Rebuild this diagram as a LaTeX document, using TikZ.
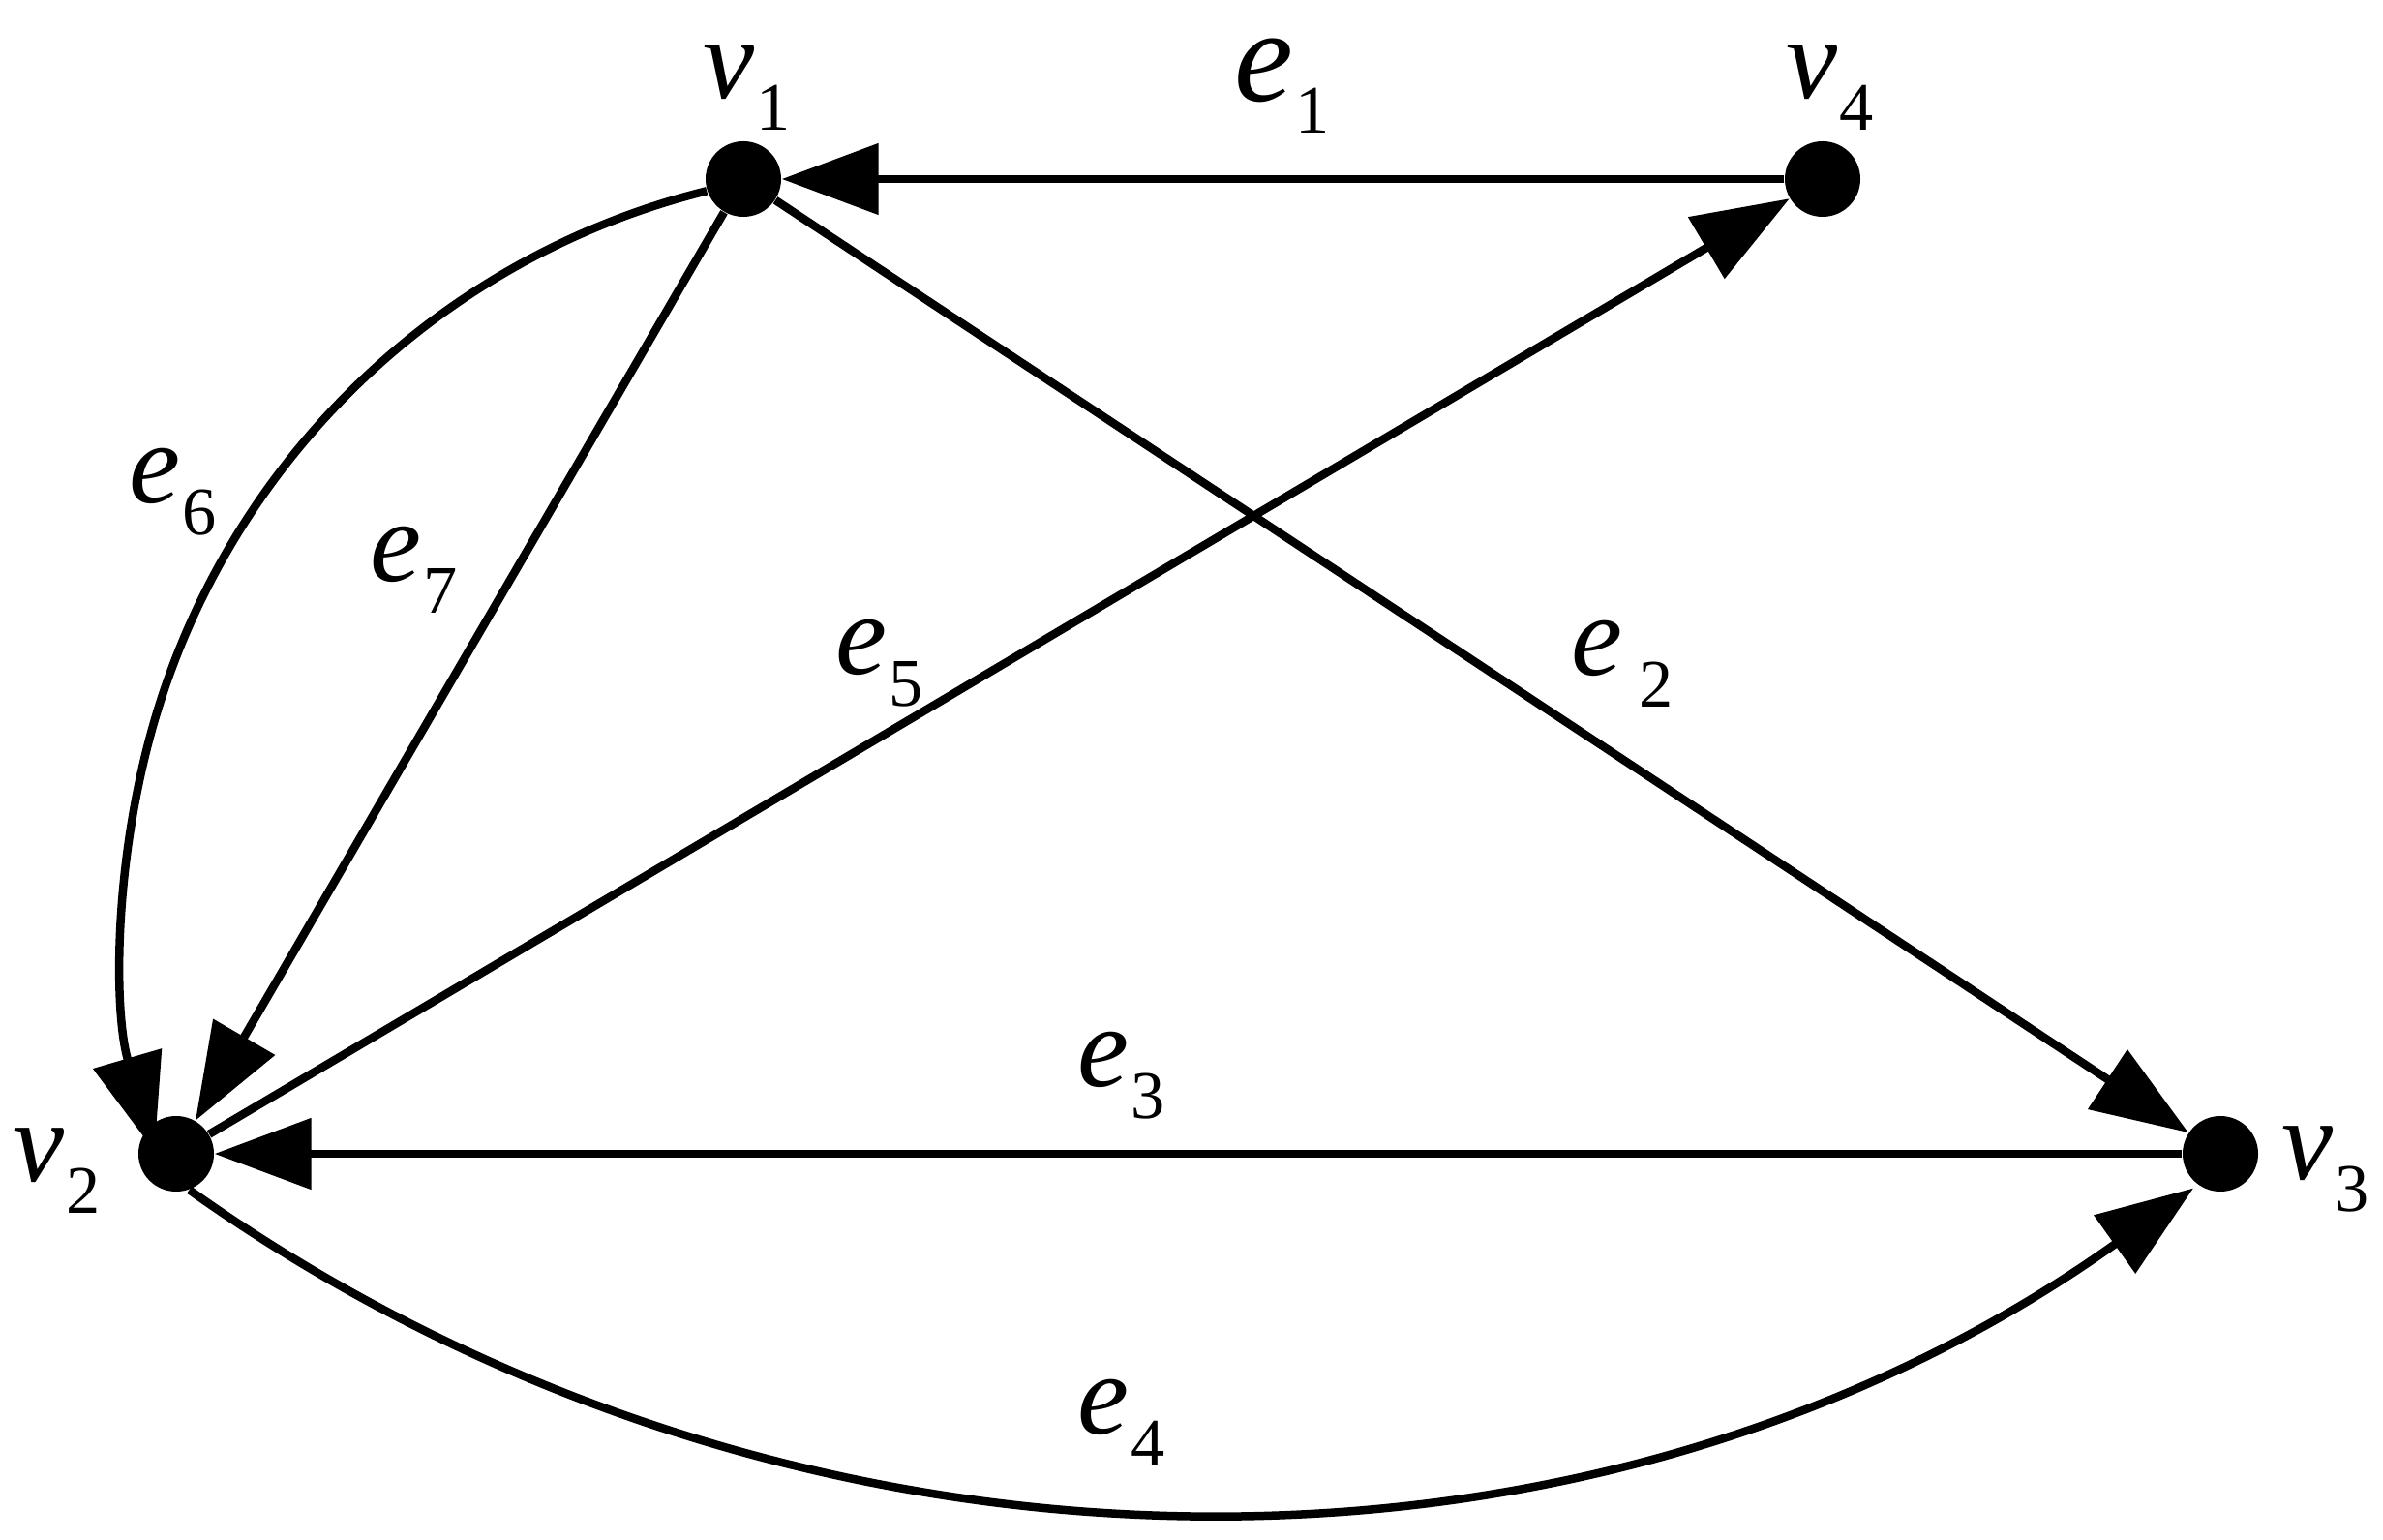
\documentclass[tikz,border=0pt]{standalone}
\usepackage{fontspec}
\setmainfont{Liberation Serif}
\newfontfamily\lbfont{Liberation Serif}
\usetikzlibrary{arrows.meta}
\newcommand{\glabel}[3][34]{{\lbfont\fontsize{#1}{#1}\selectfont\itshape #2}\kern0.02cm\raisebox{-0.33cm}{\lbfont\fontsize{20}{20}\selectfont #3}}
\begin{document}
\begin{tikzpicture}[
  vertex/.style={circle, fill=black, inner sep=0pt, minimum size=0.78cm},
  edge/.style={line width=0.085cm, -{Triangle[length=1.0cm,width=0.72cm]}},
  lbl/.style={anchor=base west, inner sep=0pt}
]
\useasboundingbox (0,0) rectangle (24.62,15.90);
\node[vertex] (v1) at (7.68,14.05) {};
\node[vertex] (v4) at (18.83,14.05) {};
\node[vertex] (v2) at (1.82,3.98) {};
\node[vertex] (v3) at (22.94,3.98) {};
\draw[edge] (v4) -- (v1);
\draw[edge] (v1) -- (v3);
\draw[edge] (v3) -- (v2);
\draw[edge] (v2) -- (v4);
\draw[edge] (v1) -- (v2);
\draw[edge] (v1.198) arc[start angle=103.9, end angle=196.3, radius=7.93];
\draw[edge] (v2.-70) arc[start angle=234.6, end angle=305.5, radius=17.85];
\node[lbl] (lv1) at (7.26,14.88) {\glabel{v}{1}};
\node[lbl] (le1) at (12.75,14.85) {\glabel[39]{e}{1}};
\node[lbl] (lv4) at (18.45,14.88) {\glabel{v}{4}};
\node[lbl] (lv2) at (0.13,3.70) {\glabel{v}{2}};
\node[lbl] (lv3) at (23.57,3.72) {\glabel{v}{3}};
\node[lbl] (le2) at (16.23,8.92) {\glabel{e}{\kern0.15cm 2}};
\node[lbl] (le3) at (11.13,4.67) {\glabel{e}{3}};
\node[lbl] (le4) at (11.13,1.09) {\glabel{e}{4}};
\node[lbl] (le5) at (8.63,8.93) {\glabel{e}{5}};
\node[lbl] (le6) at (1.33,10.70) {\glabel{e}{6}};
\node[lbl] (le7) at (3.82,9.89) {\glabel{e}{7}};
\end{tikzpicture}
\end{document}
